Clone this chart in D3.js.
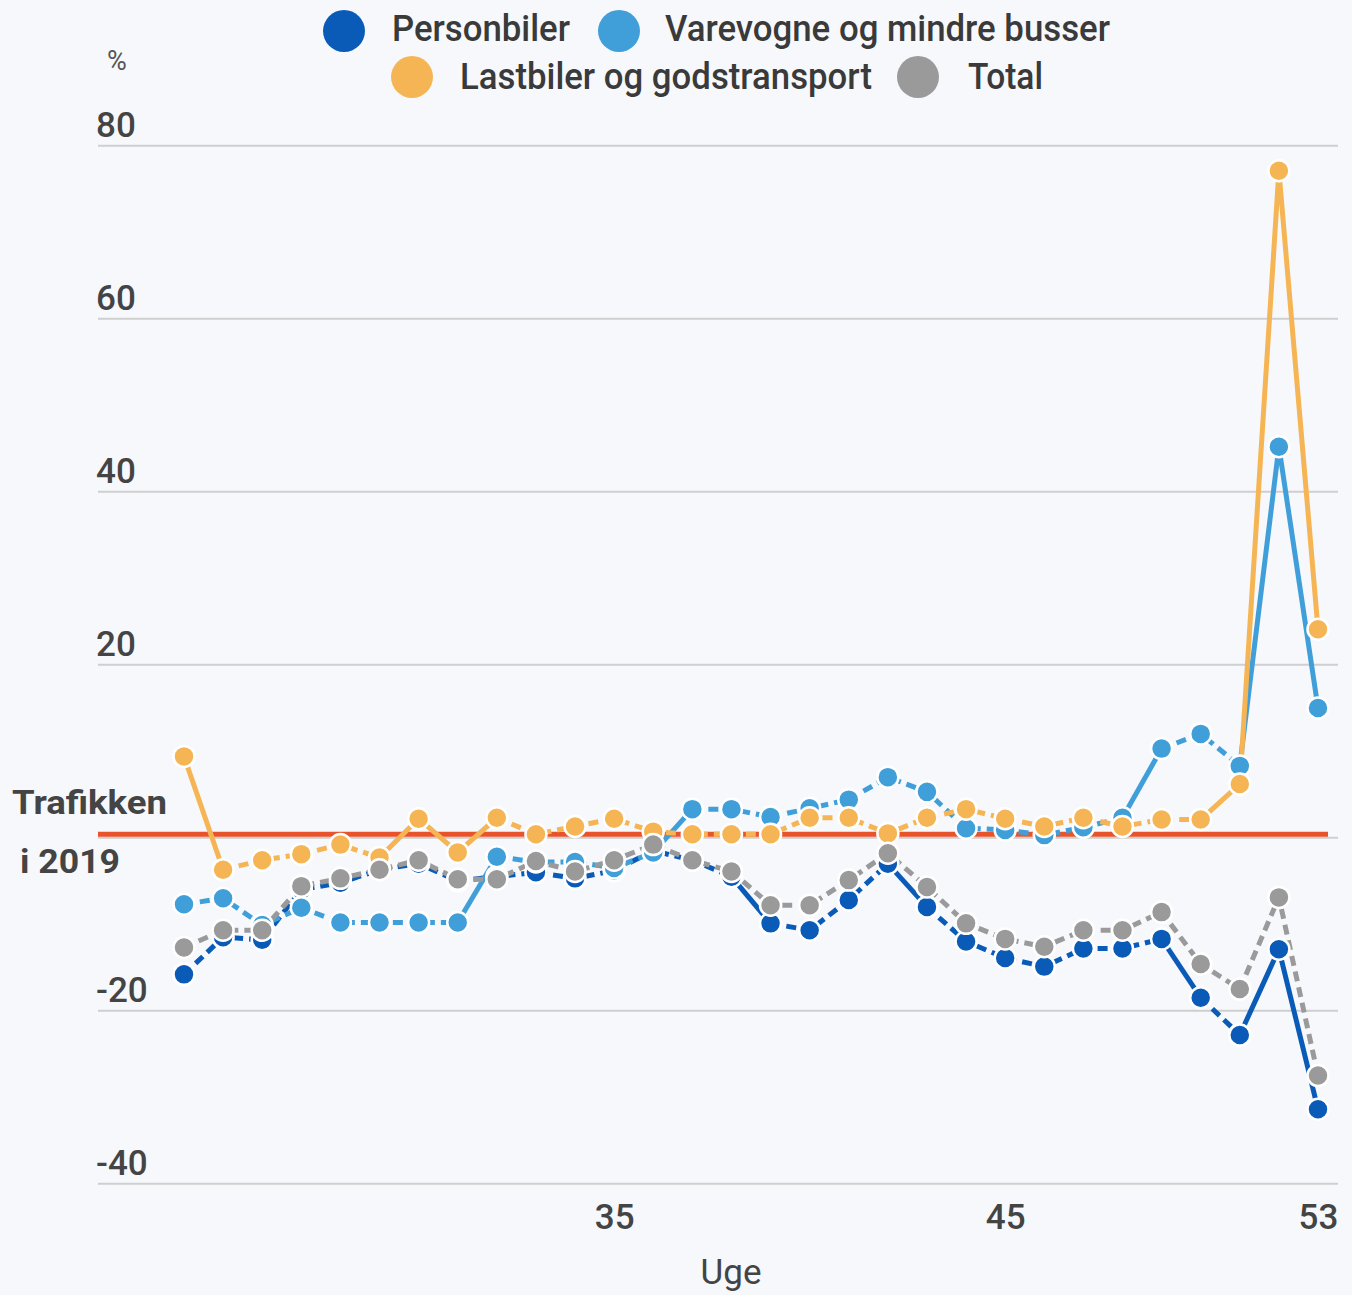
<!DOCTYPE html>
<html><head><meta charset="utf-8">
<script src="https://cdn.jsdelivr.net/npm/d3@7"></script>
<style>
html,body{margin:0;padding:0;background:#f6f8fc;}
svg{display:block;font-family:Roboto,"Noto Sans",sans-serif;}
</style></head><body>
<svg id="chart" width="1352" height="1295"></svg>
<script>
// ---- data ----
const weeks = [24,25,26,27,28,29,30,31,32,33,34,35,36,37,38,39,40,41,42,43,44,45,46,47,48,49,50,51,52,53];
const personbiler = [-15.8,-11.5,-11.8,-6.0,-5.2,-3.7,-3.0,-5.0,-4.5,-4.0,-4.7,-3.8,-1.5,-2.6,-4.5,-9.9,-10.7,-7.2,-3.0,-8.0,-12.0,-13.9,-14.9,-12.8,-12.8,-11.7,-18.5,-22.8,-12.9,-31.4];
const varevogne   = [-7.7,-7.0,-10.1,-8.1,-9.8,-9.8,-9.8,-9.8,-2.2,-2.8,-2.8,-3.5,-1.7,3.3,3.3,2.4,3.4,4.4,7.0,5.3,1.1,0.9,0.3,1.2,2.3,10.3,12.0,8.3,45.2,15.0];
const lastbiler   = [9.4,-3.7,-2.6,-1.9,-0.8,-2.3,2.2,-1.7,2.3,0.4,1.3,2.2,0.7,0.4,0.4,0.4,2.3,2.3,0.5,2.3,3.3,2.2,1.3,2.3,1.3,2.1,2.1,6.2,77.1,24.1];
const total       = [-12.7,-10.7,-10.7,-5.6,-4.7,-3.7,-2.6,-4.8,-4.8,-2.7,-3.9,-2.6,-0.8,-2.6,-3.9,-7.8,-7.8,-4.9,-1.8,-5.7,-9.9,-11.7,-12.6,-10.7,-10.7,-8.6,-14.6,-17.5,-6.9,-27.5];
// certainty of each segment (s = certain/solid, d = uncertain/dashed)
const personbilerCertain = "ddddddddddddddsdddsddddddsdss".split("");
const varevogneCertain   = "dddddddsddddsdddddddddddsddss".split("");
const lastbilerCertain   = "sddddsssddddddddddddddddddsss".split("");
const totalCertain       = "ddddddddddddddddddddddddddddd".split("");
const seriesNames = ["Personbiler","Varevogne og mindre busser","Lastbiler og godstransport","Total"];
const yTicks = [-40,-20,20,40,60,80];
const xTicks = [35,45,53];
const baselineLabel = ["Trafikken","i 2019"];
const baselineValue = 0;
const xTitle = "Uge";
const yUnit = "%";

// ---- drawing ----
const colors = ["#0a5bb8","#409fd9","#f6b554","#9a9a9a"];
const svg = d3.select("#chart");
const W = 1352, H = 1295;
svg.append("rect").attr("width",W).attr("height",H).attr("fill","#f6f8fc");

const x = d3.scaleLinear().domain([24,53]).range([184,1318]);
const y = d3.scaleLinear().domain([-40,80]).range([1183.7,145.7]);
const plotL = 98, plotR = 1338;

// gridlines
svg.append("g").selectAll("line").data([-40,-20,0,20,40,60,80]).join("line")
  .attr("x1",plotL).attr("x2",plotR).attr("y1",d=>y(d)).attr("y2",d=>y(d))
  .attr("stroke","#cfcfcf").attr("stroke-width",2);

// y axis labels
const yAxis = d3.axisRight(y).tickValues(yTicks).tickSize(0).tickPadding(0).tickFormat(d=>String(d));
const gy = svg.append("g").attr("transform",`translate(${plotL-2},0)`).call(yAxis);
gy.select(".domain").remove();
gy.selectAll("text").attr("dy",0).attr("y",-9).attr("x",0)
  .attr("font-size",35).attr("font-weight",500).attr("fill","#444").attr("font-family","Roboto").attr("text-anchor","start");

// x axis labels
const xAxis = d3.axisBottom(x).tickValues(xTicks).tickSize(0).tickPadding(0).tickFormat(d=>String(d));
const gx = svg.append("g").attr("transform","translate(0,1229)").call(xAxis);
gx.select(".domain").remove();
gx.selectAll("text").attr("dy",0).attr("y",0)
  .attr("font-size",35).attr("font-weight",500).attr("fill","#444").attr("font-family","Roboto");

svg.append("text").attr("x",731).attr("y",1284).attr("text-anchor","middle")
  .attr("font-size",35).attr("fill","#444").text(xTitle);
svg.append("text").attr("x",107).attr("y",70)
  .attr("font-size",27).attr("fill","#555").text(yUnit);

// baseline (2019 level)
svg.append("line").attr("x1",plotL).attr("x2",1328)
  .attr("y1",y(baselineValue)-3.5).attr("y2",y(baselineValue)-3.5)
  .attr("stroke","#e8532b").attr("stroke-width",5);
svg.append("text").attr("x",12).attr("y",814).attr("font-size",34).attr("font-weight","bold")
  .attr("fill","#444").attr("textLength",155).attr("lengthAdjust","spacingAndGlyphs").text(baselineLabel[0]);
svg.append("text").attr("x",20).attr("y",873).attr("font-size",34).attr("font-weight","bold")
  .attr("fill","#444").attr("textLength",100).attr("lengthAdjust","spacingAndGlyphs").text(baselineLabel[1]);

// series
const series = [
  {vals:personbiler, cert:personbilerCertain},
  {vals:varevogne, cert:varevogneCertain},
  {vals:lastbiler, cert:lastbilerCertain},
  {vals:total, cert:totalCertain}
];
const line = d3.line().x(d=>x(d[0])).y(d=>y(d[1]));
const gl = svg.append("g");
series.forEach((s,si)=>{
  let start = 0;
  for (let i=1;i<=s.cert.length;i++){
    if (i===s.cert.length || s.cert[i]!==s.cert[start]){
      const pts = [];
      for (let k=start;k<=i;k++) pts.push([weeks[k], s.vals[k]]);
      gl.append("path").attr("d",line(pts)).attr("fill","none")
        .attr("stroke",colors[si]).attr("stroke-width",5)
        .attr("stroke-linejoin","round")
        .attr("stroke-dasharray", s.cert[start]==="d" ? "10,6" : null);
      start = i;
    }
  }
});
series.forEach((s,si)=>{
  svg.append("g").selectAll("circle").data(s.vals).join("circle")
    .attr("cx",(d,i)=>x(weeks[i])).attr("cy",d=>y(d)).attr("r",10.5)
    .attr("fill",colors[si]).attr("stroke","#ffffff").attr("stroke-width",2.5);
});

// legend
const legendPos = [
  {cx:344, cy:31, tx:392, ty:41, w:178},
  {cx:619, cy:31, tx:665, ty:41, w:445},
  {cx:412, cy:77, tx:460, ty:89, w:412},
  {cx:918, cy:77, tx:968, ty:89, w:75}
];
const lg = svg.append("g");
seriesNames.forEach((n,i)=>{
  const p = legendPos[i];
  lg.append("circle").attr("cx",p.cx).attr("cy",p.cy).attr("r",21).attr("fill",colors[i]);
  lg.append("text").attr("x",p.tx).attr("y",p.ty).attr("font-size",37).attr("font-weight",500).attr("fill","#3a3a3a")
    .attr("textLength",p.w).attr("lengthAdjust","spacingAndGlyphs").text(n);
});
</script>
</body></html>
